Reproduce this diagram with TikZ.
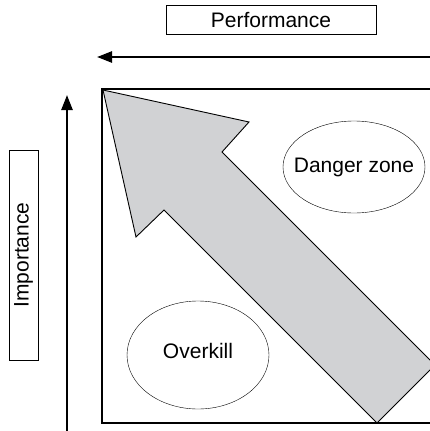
\documentclass[tikz,border=0pt]{standalone}
\usepackage{fontspec}
\setmainfont{Liberation Sans}
\usepackage{tikz}
\usetikzlibrary{arrows.meta,shapes.geometric}
\definecolor{arrowgray}{RGB}{209,210,212}

\begin{document}
\begin{tikzpicture}[x=1pt,y=-1pt,font=\fontsize{21}{25}\selectfont]
    \useasboundingbox (0,0) rectangle (430,431);

    % Axis labels
    \node[draw, thin, minimum width=210, minimum height=29] (perf) at (271,20) {Performance};
    \node[draw, thin, rotate=90, minimum width=210, minimum height=29] (imp) at (23.5,255) {Importance};

    % Axis arrows
    \coordinate (perfstart) at (440,57);
    \coordinate (perfend) at (97,57);
    \coordinate (impstart) at (67,440);
    \coordinate (impend) at (67,95);
    \draw[line width=2.4pt, -{Triangle[length=15pt,width=11pt]}] (perfstart) -- (perfend);
    \draw[line width=2.4pt, -{Triangle[length=15pt,width=11pt]}] (impstart) -- (impend);

    % Big gray arrow
    \begin{scope}
        \clip (102,89) rectangle (445,423);
        \draw[fill=arrowgray, line width=0.9pt] (103,90) -- (249,122) -- (222,152) -- (435,365)
            -- (377,423) -- (164,210) -- (136,237) -- cycle;
    \end{scope}

    % Frame
    \draw[line width=2.8pt] (102,89) rectangle (445,423);

    % Zones
    \node[draw, ellipse, thin, minimum width=142, minimum height=92, label={center:Danger zone}] (danger) at (354,167) {};
    \node[draw, ellipse, thin, minimum width=142, minimum height=108, label={[yshift=4pt]center:Overkill}] (overkill) at (198,355) {};
\end{tikzpicture}
\end{document}
